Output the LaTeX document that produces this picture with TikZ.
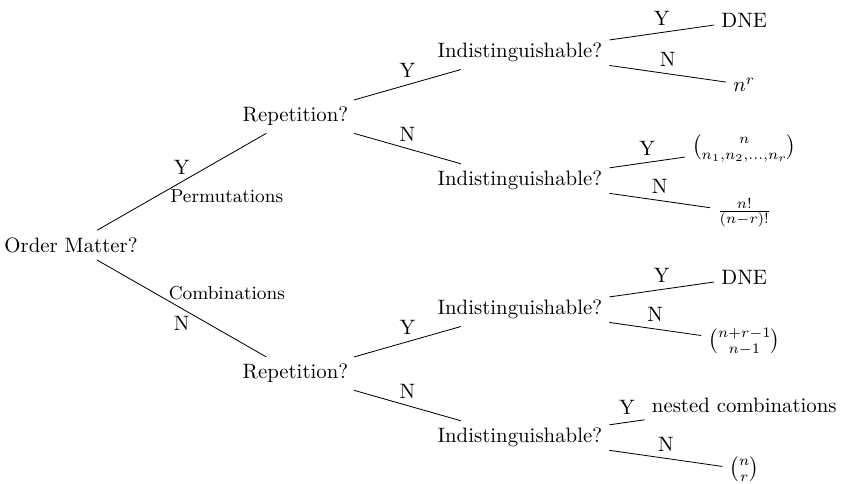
\documentclass[tikz,border=0pt]{standalone}
\usepackage{amsmath}
\usetikzlibrary{positioning}

\begin{document}
\begin{tikzpicture}[on grid,
  branch/.style={draw=black},
  kind/.style={font=\small, anchor=west}]
  \useasboundingbox (-1.2,-4.02) rectangle (13.02,4.14);
  \node (order) {Order Matter?};
  \node[above right=2.17cm and 3.79cm of order] (rep1) {Repetition?};
  \node[below right=2.17cm and 3.79cm of order] (rep2) {Repetition?};
  \node[above right=1.08cm and 3.79cm of rep1] (ind1) {Indistinguishable?};
  \node[below right=1.08cm and 3.79cm of rep1] (ind2) {Indistinguishable?};
  \node[above right=1.08cm and 3.79cm of rep2] (ind3) {Indistinguishable?};
  \node[below right=1.08cm and 3.79cm of rep2] (ind4) {Indistinguishable?};
  % outcomes
  \node[above right=0.54cm and 3.79cm of ind1] (dne1) {DNE};
  \node[below right=0.54cm and 3.79cm of ind1] (power) {$n^r$};
  \node[above right=0.54cm and 3.79cm of ind2] (multi) {$\binom{n}{n_1,n_2,\ldots,n_r}$};
  \node[below right=0.54cm and 3.79cm of ind2] (perm) {$\frac{n!}{(n-r)!}$};
  \node[above right=0.54cm and 3.79cm of ind3] (dne2) {DNE};
  \node[below right=0.54cm and 3.79cm of ind3] (multiset) {$\binom{n+r-1}{n-1}$};
  \node[above right=0.54cm and 3.79cm of ind4] (nested) {nested combinations};
  \node[below right=0.54cm and 3.79cm of ind4] (choose) {$\binom{n}{r}$};
  \draw[branch] (order) -- node[above]{Y} node[kind, pos=0.39, yshift=-0.6mm]{Permutations} (rep1);
  \draw[branch] (order) -- node[below]{N} node[kind, pos=0.38, yshift=0.6mm]{Combinations} (rep2);
  \draw[branch] (rep1) -- node[above]{Y} (ind1);
  \draw[branch] (rep1) -- node[above]{N} (ind2);
  \draw[branch] (rep2) -- node[above]{Y} (ind3);
  \draw[branch] (rep2) -- node[above]{N} (ind4);
  \draw[branch] (ind1) -- node[above]{Y} (dne1);
  \draw[branch] (ind1) -- node[above]{N} (power);
  \draw[branch] (ind2) -- node[above]{Y} (multi);
  \draw[branch] (ind2) -- node[above]{N} (perm);
  \draw[branch] (ind3) -- node[above]{Y} (dne2);
  \draw[branch] (ind3) -- node[above]{N} (multiset);
  \draw[branch] (ind4) -- node[above]{Y} (nested);
  \draw[branch] (ind4) -- node[above]{N} (choose);
\end{tikzpicture}
\end{document}
